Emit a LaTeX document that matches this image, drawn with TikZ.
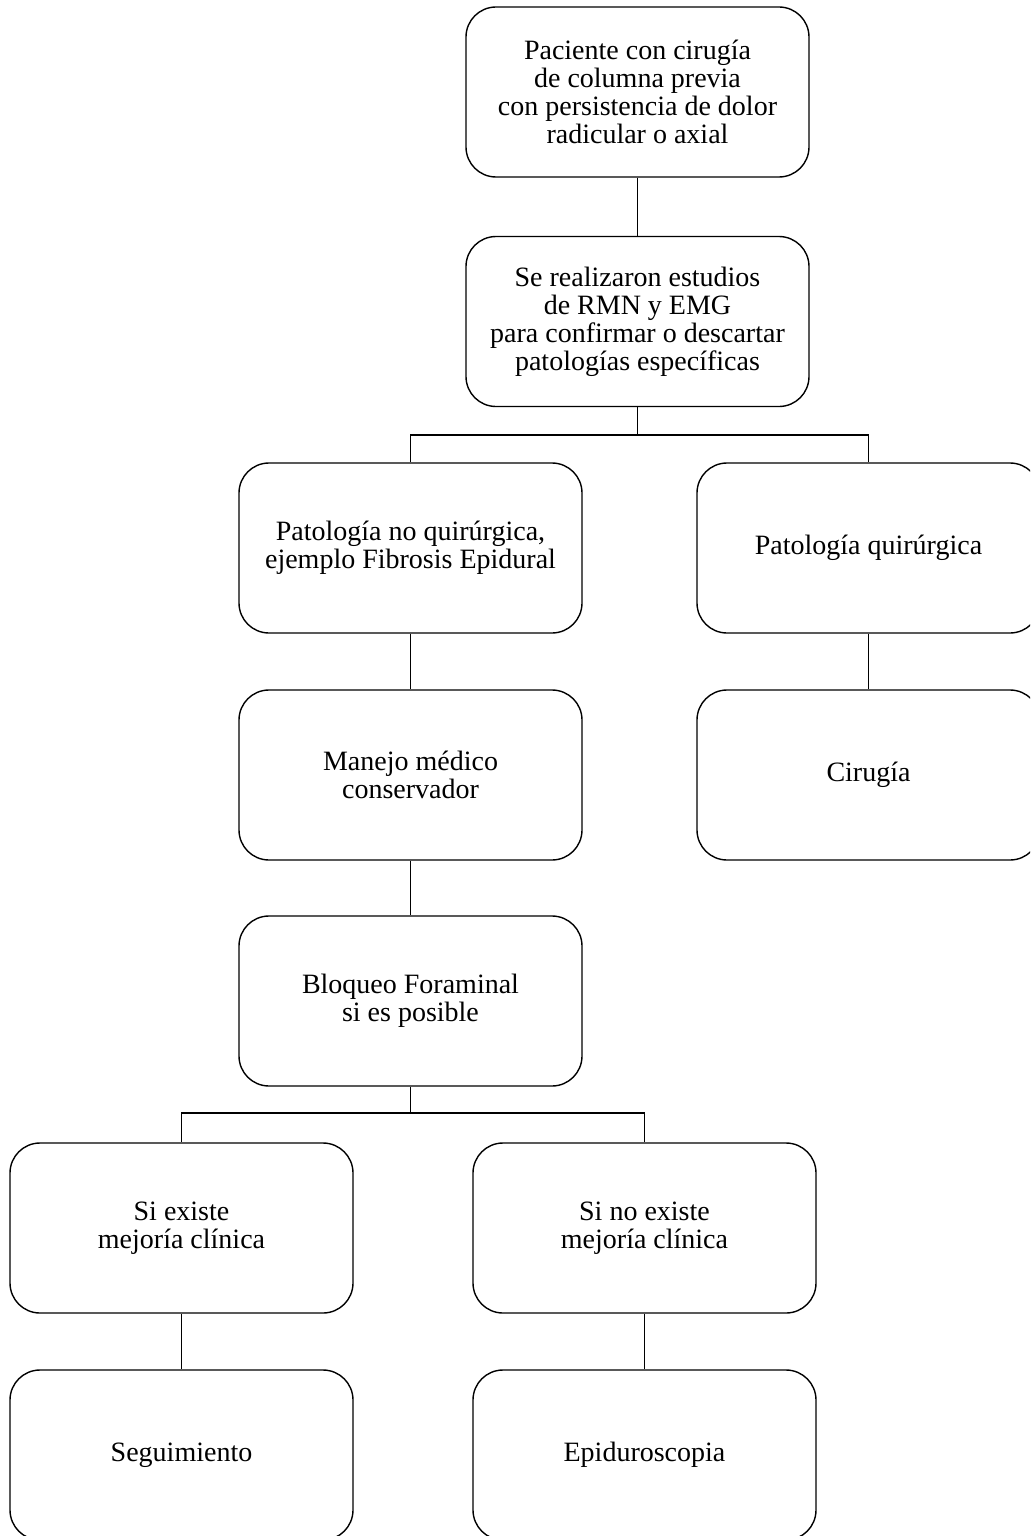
\documentclass[tikz,border=0pt]{standalone}
\usepackage{fontspec}
\setmainfont{Liberation Serif}
\begin{document}
\begin{tikzpicture}[x=0.5pt,y=-0.5pt,
  box/.style={draw, line width=0.7pt, rounded corners=15pt, minimum width=171.5pt, minimum height=85pt, align=center, inner sep=0pt, font=\fontsize{14}{14}\selectfont},
  link/.style={draw, line width=0.7pt}]
\useasboundingbox (0,0) rectangle (1030,1536);
\clip (0,0) rectangle (1030,1536);
\node[box] (b1) at (637.5,92) {Paciente con cirugía\\de columna previa\\con persistencia de dolor\\radicular o axial};
\node[box] (b2) at (637.5,321.5) {Se realizaron estudios\\de RMN y EMG\\para confirmar o descartar\\patologías específicas};
\node[box] (b3) at (410.5,548) {Patología no quirúrgica,\\ejemplo Fibrosis Epidural};
\node[box] (b4) at (868.5,548) {Patología quirúrgica};
\node[box] (b5) at (410.5,775) {Manejo médico\\conservador};
\node[box] (b6) at (868.5,775) {Cirugía};
\node[box] (b7) at (410.5,1001) {Bloqueo Foraminal\\si es posible};
\node[box] (b8) at (181.5,1228) {Si existe\\mejoría clínica};
\node[box] (b9) at (644.5,1228) {Si no existe\\mejoría clínica};
\node[box] (b10) at (181.5,1455) {Seguimiento};
\node[box] (b11) at (644.5,1455) {Epiduroscopia};
\coordinate (j1) at (637.5,435);
\coordinate (j2) at (410.5,1113);
\path[link] (b1.south) -- (b2.north);
\path[link] (b2.south) -- (j1);
\path[link] (j1) -| (b3.north);
\path[link] (j1) -| (b4.north);
\path[link] (b3.south) -- (b5.north);
\path[link] (b5.south) -- (b7.north);
\path[link] (b4.south) -- (b6.north);
\path[link] (b7.south) -- (j2);
\path[link] (j2) -| (b8.north);
\path[link] (j2) -| (b9.north);
\path[link] (b8.south) -- (b10.north);
\path[link] (b9.south) -- (b11.north);
\end{tikzpicture}
\end{document}
